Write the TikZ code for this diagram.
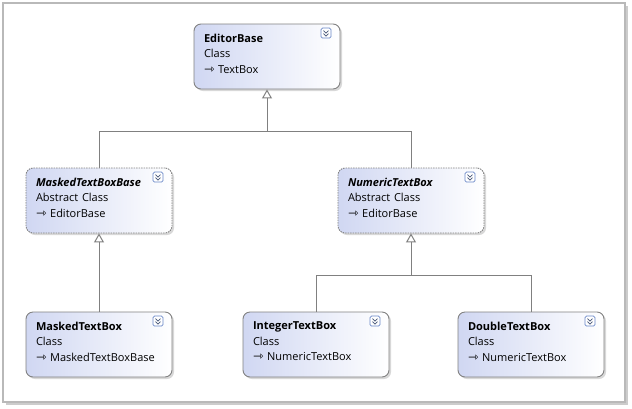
\documentclass[tikz,border=0pt]{standalone}
\usepackage{fontspec}
\setmainfont{Open Sans}
\newfontfamily\symfont{DejaVu Sans}
\usetikzlibrary{positioning,calc,shadows,arrows.meta}

\definecolor{boxleft}{RGB}{208,215,242}
\definecolor{boxline}{RGB}{130,130,130}
\definecolor{linkgray}{RGB}{128,128,128}
\definecolor{iconblue}{RGB}{105,135,200}
\definecolor{chevblue}{RGB}{70,85,120}
\definecolor{framegray}{RGB}{185,185,185}

% base class line, with some depth so the text sits high in the box
\newcommand{\baseof}{\rule[-6pt]{0pt}{1pt}{\symfont\fontsize{12.5}{15.5}\selectfont ⇾}}
\newcommand{\expander}[1]{%
  \node[expbtn] (#1-x) at ($(#1.north east)+(-14.5,9.5)$) {};
  \draw[chev] ($(#1-x.center)+(-2.5,-2.5)$) -- ++(2.5,2.5) -- ++(2.5,-2.5);
  \draw[chev] ($(#1-x.center)+(-2.5,0.5)$) -- ++(2.5,2.5) -- ++(2.5,-2.5);
}

\tikzset{
  cls/.style={draw=boxline, line width=0.9pt, rounded corners=7,
    left color=boxleft, right color=white,
    drop shadow={shadow xshift=2pt, shadow yshift=-2pt, opacity=0.3},
    minimum width=146, minimum height=65, text width=126,
    inner xsep=10, inner ysep=0, align=left,
    font=\fontsize{11}{15.5}\selectfont},
  abscls/.style={cls, dash pattern=on 1.5pt off 1pt},
  expbtn/.style={draw=iconblue, fill=white, rounded corners=1.5,
    minimum size=10, inner sep=0, line width=0.7pt},
  chev/.style={draw=chevblue, line width=0.7pt},
  isa/.style={draw=linkgray, line width=1pt,
    -{Triangle[length=9pt, width=10pt, fill=white]}},
  link/.style={draw=linkgray, line width=1pt}
}

\begin{document}
\begin{tikzpicture}[x=1pt, y=-1pt]
  \useasboundingbox (0,0) rectangle (632,408);
  \fill[white] (0,0) rectangle (632,408);
  \draw[framegray, line width=1.5pt, fill=white,
    drop shadow={shadow xshift=2.5pt, shadow yshift=-2.5pt, opacity=0.4}]
    (3,3) rectangle (625,402);

  % classes
  \node[cls] (eb) at (267,56.5) {\textbf{EditorBase}\\Class\\\baseof\ TextBox};
  \node[abscls] (mtbb) at (99,200.5) {\textbf{\textit{MaskedTextBoxBase}}\\Abstract Class\\\baseof\ EditorBase};
  \node[abscls] (ntb) at (411,200.5) {\textbf{\textit{NumericTextBox}}\\Abstract Class\\\baseof\ EditorBase};
  \node[cls] (mtb) at (99,344.5) {\textbf{MaskedTextBox}\\Class\\\baseof\ MaskedTextBoxBase};
  \node[cls] (itb) at (316,344.5) {\textbf{IntegerTextBox}\\Class\\\baseof\ NumericTextBox};
  \node[cls] (dtb) at (531,344.5) {\textbf{DoubleTextBox}\\Class\\\baseof\ NumericTextBox};

  \expander{eb}
  \expander{mtbb}
  \expander{ntb}
  \expander{mtb}
  \expander{itb}
  \expander{dtb}

  % inheritance
  \coordinate (j1) at (267,131);
  \coordinate (j2) at (411,275);
  \draw[link] (mtbb.north) |- (j1);
  \draw[link] (ntb.north) |- (j1);
  \draw[isa] (j1) -- (eb.south);
  \draw[link] (itb.north) |- (j2);
  \draw[link] (dtb.north) |- (j2);
  \draw[isa] (j2) -- (ntb.south);
  \draw[isa] (mtb.north) -- (mtbb.south);
\end{tikzpicture}
\end{document}
